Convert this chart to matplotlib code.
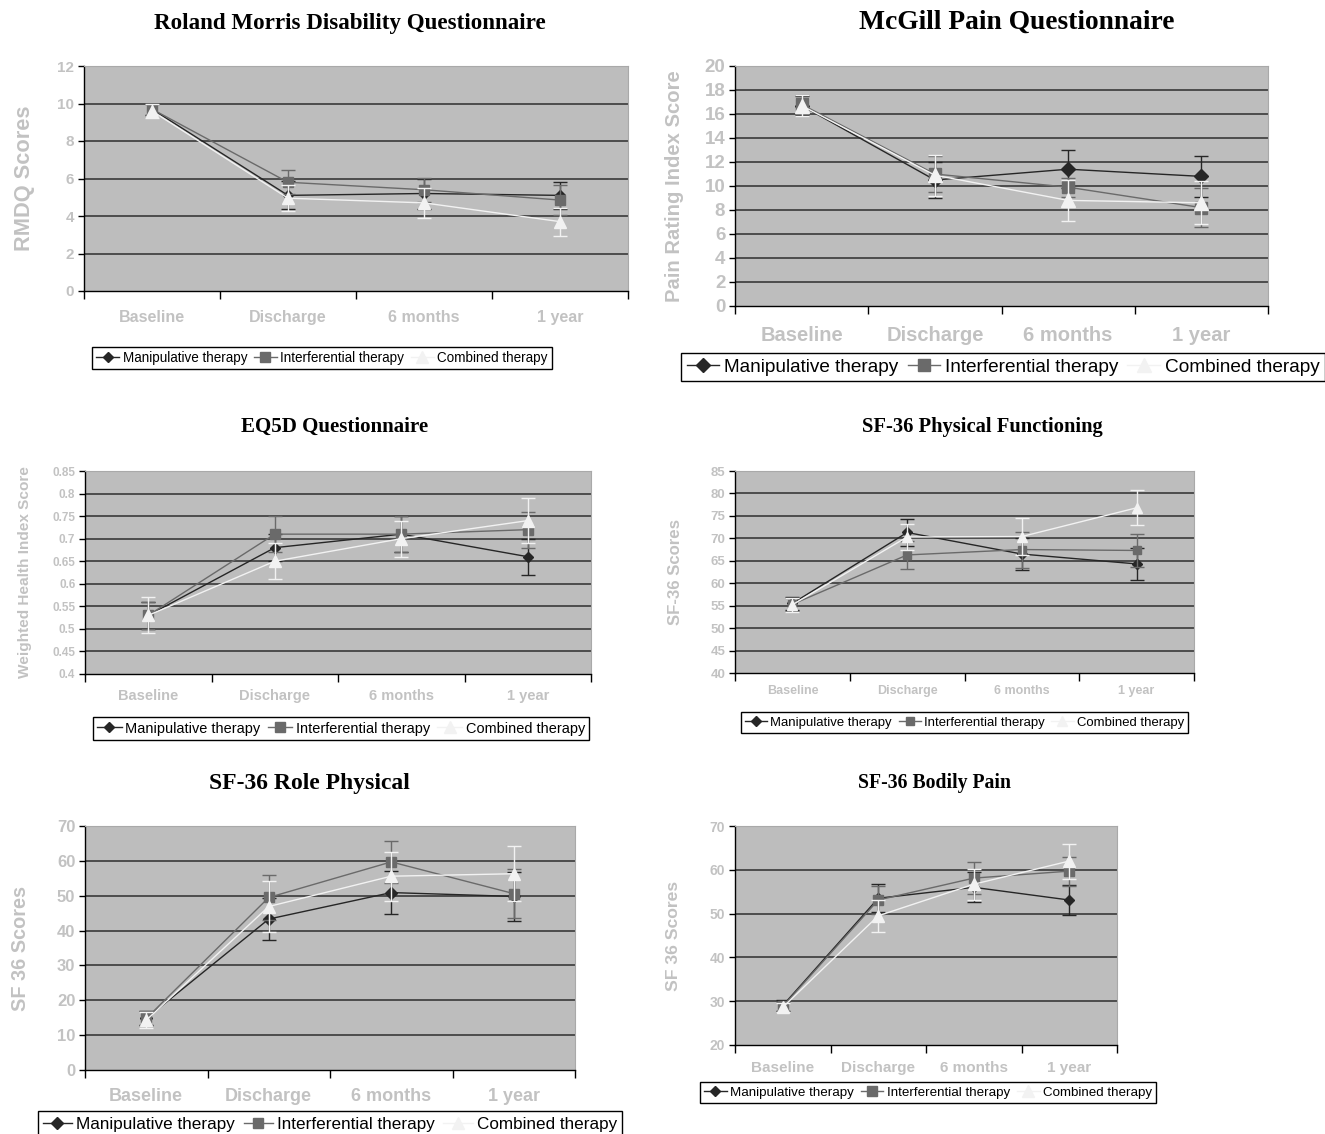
import matplotlib
matplotlib.use('Agg')
import matplotlib.pyplot as plt
import numpy as np

W, H, DPI = 1325, 1134, 100

# ---------------- data ----------------
timepoints = ['Baseline', 'Discharge', '6 months', '1 year']
series_names = ['Manipulative therapy', 'Interferential therapy', 'Combined therapy']

rmdq_man = [9.7, 5.1, 5.2, 5.1]
rmdq_man_err = [0.3, 0.75, 0.8, 0.7]
rmdq_int = [9.7, 5.8, 5.4, 4.85]
rmdq_int_err = [0.3, 0.65, 0.65, 0.8]
rmdq_comb = [9.6, 4.95, 4.7, 3.7]
rmdq_comb_err = [0.35, 0.7, 0.8, 0.75]
rmdq_yticks = [0, 2, 4, 6, 8, 10, 12]

mcgill_man = [16.7, 10.5, 11.4, 10.8]
mcgill_man_err = [0.8, 1.5, 1.6, 1.7]
mcgill_int = [16.8, 11.0, 9.9, 8.2]
mcgill_int_err = [0.8, 1.5, 0.8, 1.6]
mcgill_comb = [16.7, 10.9, 8.8, 8.6]
mcgill_comb_err = [0.85, 1.7, 1.7, 1.8]
mcgill_yticks = [0, 2, 4, 6, 8, 10, 12, 14, 16, 18, 20]

eq5d_man = [0.53, 0.68, 0.71, 0.66]
eq5d_man_err = [0.03, 0.03, 0.04, 0.04]
eq5d_int = [0.53, 0.71, 0.71, 0.72]
eq5d_int_err = [0.03, 0.04, 0.04, 0.04]
eq5d_comb = [0.53, 0.65, 0.70, 0.74]
eq5d_comb_err = [0.04, 0.04, 0.04, 0.05]
eq5d_yticks = [0.4, 0.45, 0.5, 0.55, 0.6, 0.65, 0.7, 0.75, 0.8, 0.85]

pf_man = [55.5, 71.3, 66.5, 64.3]
pf_man_err = [1.5, 3.0, 3.5, 3.5]
pf_int = [55.3, 66.3, 67.5, 67.3]
pf_int_err = [1.5, 3.1, 4.0, 3.6]
pf_comb = [55.2, 70.3, 70.4, 76.8]
pf_comb_err = [1.5, 3.0, 4.2, 3.9]
pf_yticks = [40, 45, 50, 55, 60, 65, 70, 75, 80, 85]

rp_man = [14.8, 43.3, 50.9, 49.8]
rp_man_err = [2.0, 6.1, 6.2, 7.0]
rp_int = [14.8, 49.5, 59.7, 50.6]
rp_int_err = [2.0, 6.4, 6.0, 7.1]
rp_comb = [14.3, 46.9, 55.6, 56.3]
rp_comb_err = [2.3, 7.2, 7.0, 7.9]
rp_yticks = [0, 10, 20, 30, 40, 50, 60, 70]

bp_man = [29.0, 53.5, 56.0, 53.1]
bp_man_err = [1.2, 3.2, 3.4, 3.5]
bp_int = [28.8, 53.1, 58.1, 59.7]
bp_int_err = [1.0, 3.3, 3.6, 3.3]
bp_comb = [28.6, 49.5, 56.7, 62.0]
bp_comb_err = [1.0, 3.6, 3.5, 4.0]
bp_yticks = [20, 30, 40, 50, 60, 70]

titles = ['Roland Morris Disability Questionnaire', 'McGill Pain Questionnaire',
          'EQ5D Questionnaire', 'SF-36 Physical Functioning',
          'SF-36 Role Physical', 'SF-36 Bodily Pain']
ylabels = ['RMDQ Scores', 'Pain Rating Index Score', 'Weighted Health Index Score',
           'SF-36 Scores', 'SF 36 Scores', 'SF 36 Scores']

# ---------------- style ----------------
SANS = 'Liberation Sans'
SERIF = 'Liberation Serif'
plt.rcParams['font.family'] = [SANS, 'DejaVu Sans']

BG = '#bdbdbd'
GRID = '#2e2e2e'
TICKC = '#c2c2c2'
COLORS = ['#262626', '#6a6a6a', '#f2f2f2']
MARKERS = ['D', 's', '^']

fig = plt.figure(figsize=(W / DPI, H / DPI), dpi=DPI)
fig.patch.set_facecolor('white')
renderer = fig.canvas.get_renderer()


def fx(x):
    return x / W


def fy(y):
    return 1 - y / H


panels = [
    dict(data=[(rmdq_man, rmdq_man_err), (rmdq_int, rmdq_int_err), (rmdq_comb, rmdq_comb_err)],
         yticks=rmdq_yticks, box=(84, 66, 628, 291), title_c=(350, 23), title_w=392,
         xt_fs=11.5, yt_fs=11, yl_len=145, yl_x=25, xt_off=29,
         leg=('center', 322, 358), leg_w=459, ms=1.0, fmt='%d'),
    dict(data=[(mcgill_man, mcgill_man_err), (mcgill_int, mcgill_int_err), (mcgill_comb, mcgill_comb_err)],
         yticks=mcgill_yticks, box=(735, 66, 1268, 306), title_c=(1017, 22), title_w=315,
         xt_fs=14.5, yt_fs=13.5, yl_len=232, yl_x=675, xt_off=32,
         leg=('center left', 681, 367), leg_w=643, ms=1.25, fmt='%d'),
    dict(data=[(eq5d_man, eq5d_man_err), (eq5d_int, eq5d_int_err), (eq5d_comb, eq5d_comb_err)],
         yticks=eq5d_yticks, box=(85, 471, 591, 674), title_c=(335, 427), title_w=188,
         xt_fs=10.5, yt_fs=8.5, yl_len=213, yl_x=25, xt_off=24,
         leg=('center', 341, 728.5), leg_w=496, ms=1.0, fmt='%g'),
    dict(data=[(pf_man, pf_man_err), (pf_int, pf_int_err), (pf_comb, pf_comb_err)],
         yticks=pf_yticks, box=(735, 471, 1194, 673), title_c=(982, 427), title_w=241,
         xt_fs=9, yt_fs=9.5, yl_len=106, yl_x=676, xt_off=20,
         leg=('center', 964.5, 722.5), leg_w=447, ms=0.95, fmt='%d'),
    dict(data=[(rp_man, rp_man_err), (rp_int, rp_int_err), (rp_comb, rp_comb_err)],
         yticks=rp_yticks, box=(85, 826, 575, 1070), title_c=(309, 783), title_w=201,
         xt_fs=13, yt_fs=12, yl_len=125, yl_x=21, xt_off=29,
         leg=('center', 330, 1124), leg_w=584, ms=1.1, fmt='%d'),
    dict(data=[(bp_man, bp_man_err), (bp_int, bp_int_err), (bp_comb, bp_comb_err)],
         yticks=bp_yticks, box=(735, 826, 1117, 1045), title_c=(935, 783), title_w=153,
         xt_fs=11, yt_fs=10, yl_len=110, yl_x=673, xt_off=25,
         leg=('center', 928, 1092.5), leg_w=458, ms=1.0, fmt='%d'),
]

x = np.arange(len(timepoints))
boundaries = np.arange(len(timepoints) + 1) - 0.5

for i, p in enumerate(panels):
    l, t, r, b = p['box']
    ax = fig.add_axes([fx(l), fy(b), (r - l) / W, (b - t) / H])
    ax.set_facecolor(BG)
    yt = p['yticks']
    ax.set_ylim(yt[0], yt[-1])
    ax.set_xlim(boundaries[0], boundaries[-1])

    # gridlines at interior ticks
    for v in yt[1:-1]:
        ax.axhline(v, color=GRID, lw=1.1, zorder=1)

    handles = []
    for k, (vals, errs) in enumerate(p['data']):
        c = COLORS[k]
        ax.errorbar(x, vals, yerr=errs, fmt='none', ecolor=c, elinewidth=1.0,
                    capsize=5, capthick=1.0, zorder=3 + k)
        msz = [5.5, 6.5, 8][k] * p['ms']
        ln, = ax.plot(x, vals, color=c, lw=1.0, marker=MARKERS[k], markersize=msz,
                      markerfacecolor=c, markeredgecolor=c, zorder=4 + k,
                      label=series_names[k])
        handles.append(ln)

    # y axis
    ax.set_yticks(yt)
    ax.set_yticklabels([p['fmt'] % v for v in yt])
    ax.tick_params(axis='y', which='major', length=4, width=1, color='black',
                   labelsize=p['yt_fs'], labelcolor=TICKC, pad=3)
    for lab in ax.get_yticklabels():
        lab.set_fontweight('bold')

    # x axis: boundary ticks, labels at centres
    ax.set_xticks(boundaries)
    ax.set_xticklabels([])
    ax.tick_params(axis='x', which='major', length=6, width=1, color='black', direction='out')
    ax.set_xticks(x, minor=True)
    em_px = p['xt_fs'] * DPI / 72
    pad_pt = max(0, (p['xt_off'] - 0.62 * em_px)) * 72 / DPI
    ax.set_xticklabels(timepoints, minor=True)
    ax.tick_params(axis='x', which='minor', length=0, labelsize=p['xt_fs'],
                   labelcolor=TICKC, pad=pad_pt)
    for lab in ax.get_xticklabels(minor=True):
        lab.set_fontweight('bold')

    for s in ['left', 'bottom']:
        ax.spines[s].set_color('black')
        ax.spines[s].set_linewidth(1.0)
    for s in ['top', 'right']:
        ax.spines[s].set_color('#a9a9a9')
        ax.spines[s].set_linewidth(0.8)

    # y label, fitted to the reference length
    yl = fig.text(fx(p['yl_x']), fy((t + b) / 2), ylabels[i], rotation=90,
                  fontsize=13, fontweight='bold', color=TICKC, ha='center', va='center')
    for _ in range(3):
        bb = yl.get_window_extent(renderer)
        yl.set_fontsize(yl.get_fontsize() * p['yl_len'] / bb.height)

    # title
    tt = fig.text(fx(p['title_c'][0]), fy(p['title_c'][1]), titles[i],
                  family=[SERIF, 'DejaVu Serif'], fontweight='bold', fontsize=15,
                  ha='center', va='center', color='black')
    for _ in range(3):
        bb = tt.get_window_extent(renderer)
        tt.set_fontsize(tt.get_fontsize() * p['title_w'] / bb.width)

    # legend
    loc, cx, cy = p['leg']

    def make_leg(fs):
        lg = fig.legend(handles, series_names, loc=loc, bbox_to_anchor=(fx(cx), fy(cy)),
                        ncol=3, fontsize=fs, frameon=True, fancybox=False, framealpha=1,
                        edgecolor='black', facecolor='white', borderpad=0.3,
                        handlelength=1.7, handletextpad=0.25, columnspacing=0.5,
                        borderaxespad=0)
        lg.get_frame().set_linewidth(1.0)
        return lg

    fs = 10
    lg = make_leg(fs)
    for _ in range(3):
        bb = lg.get_window_extent(renderer)
        fs = fs * p['leg_w'] / bb.width
        lg.remove()
        lg = make_leg(fs)

fig.savefig('out.png', dpi=DPI, facecolor='white')
